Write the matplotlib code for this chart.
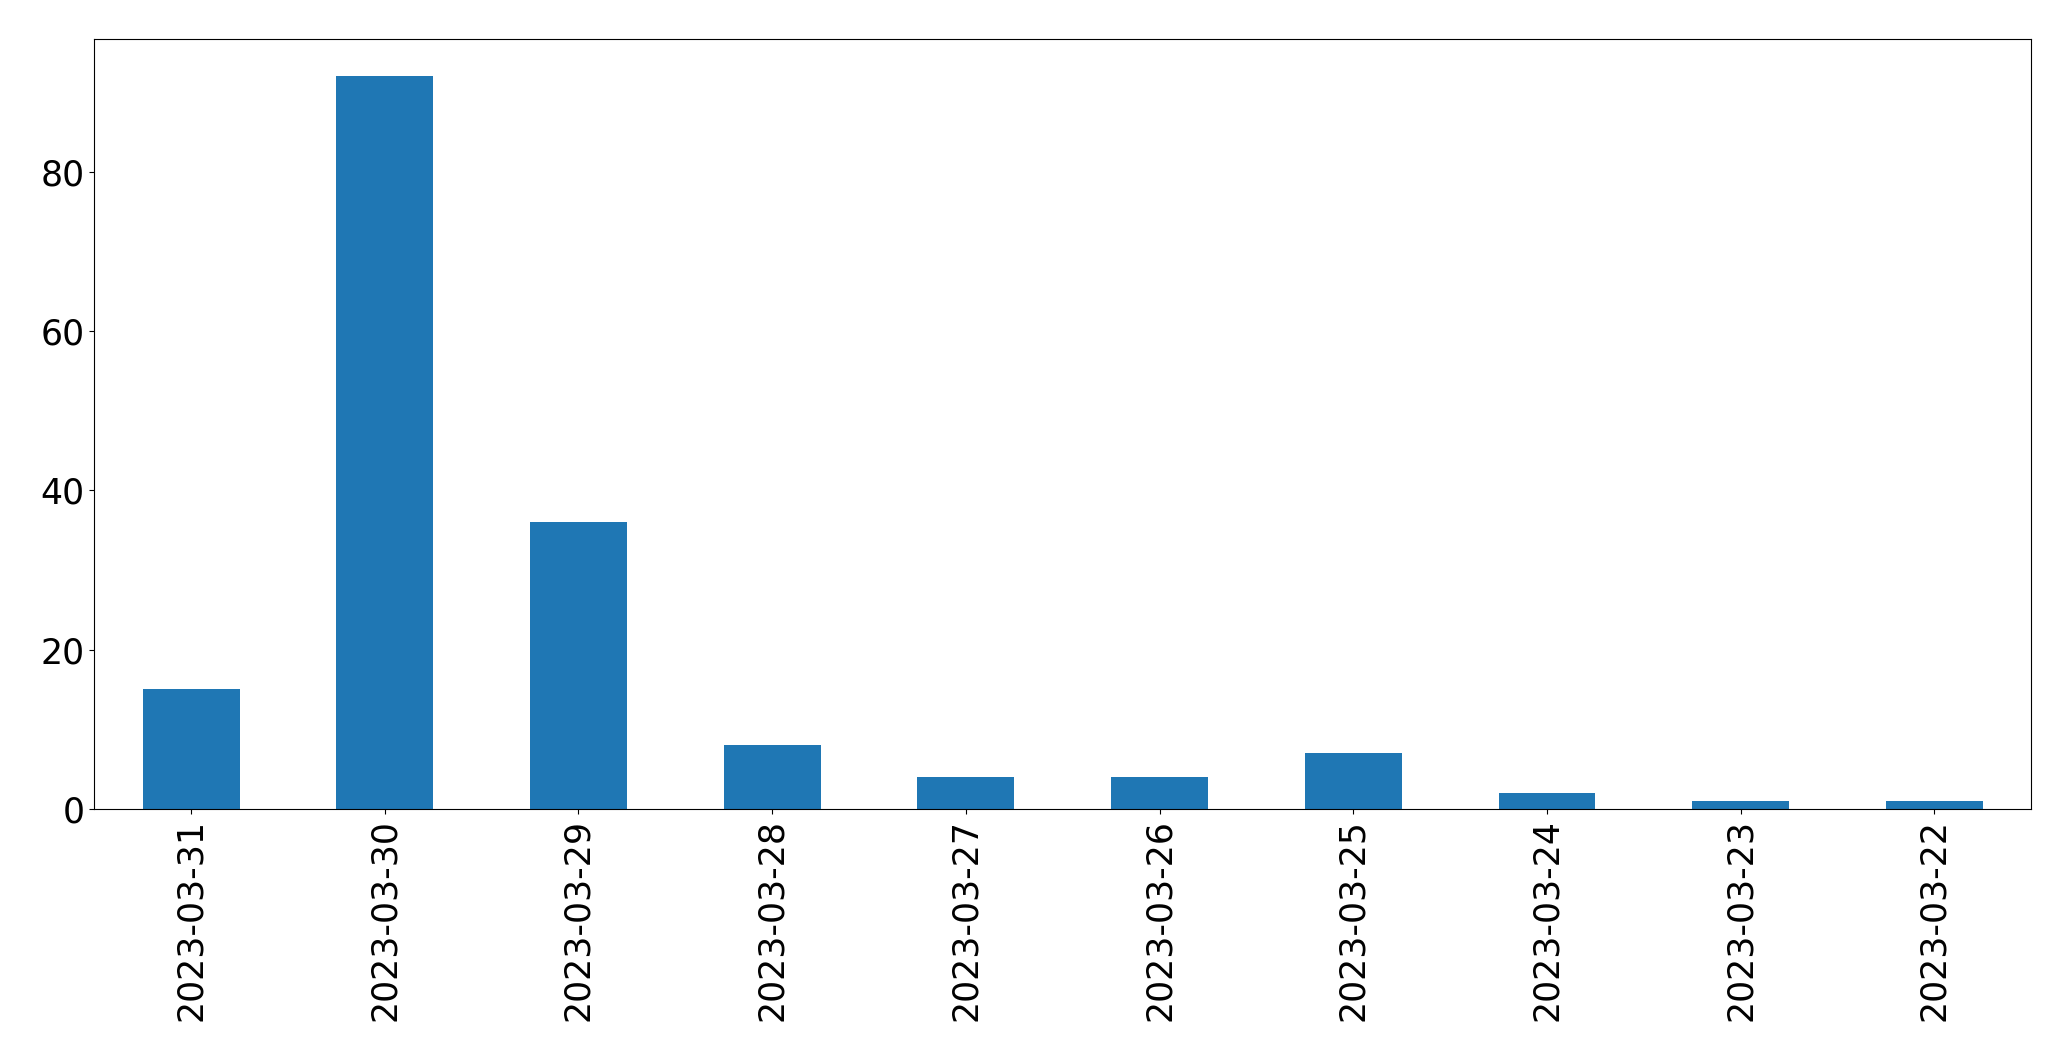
import matplotlib
matplotlib.use('Agg')
import matplotlib.pyplot as plt

dates = ['2023-03-31', '2023-03-30', '2023-03-29', '2023-03-28', '2023-03-27',
         '2023-03-26', '2023-03-25', '2023-03-24', '2023-03-23', '2023-03-22']
counts = [15, 92, 36, 8, 4, 4, 7, 2, 1, 1]

fig = plt.figure(figsize=(20.71, 10.61), dpi=100)
ax = fig.add_axes([0.0455, 0.2375, 0.9353, 0.7255])
x = range(len(dates))
ax.bar(x, counts, width=0.5, color='#1f77b4')
ax.set_xlim(-0.5, len(dates) - 0.5)
ax.set_xticks(list(x))
ax.set_xticklabels(dates, rotation=90)
ax.tick_params(labelsize=25)
fig.savefig('out.png', dpi=100)
